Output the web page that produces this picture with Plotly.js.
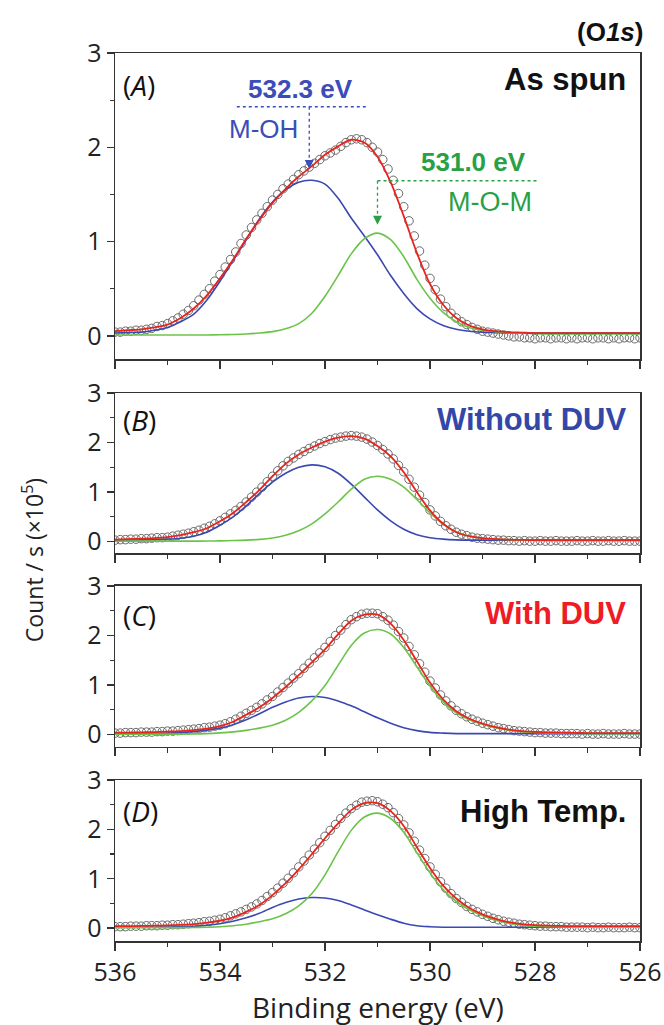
<!DOCTYPE html>
<html>
<head>
<meta charset="utf-8">
<script src="https://cdn.plot.ly/plotly-3.0.1.min.js"></script>
<style>
  html, body { margin: 0; padding: 0; background: #ffffff; }
  #chart { width: 664px; height: 1025px; }
</style>
</head>
<body>
<div id="chart"></div>
<script>
// Binding energies (eV) for the fitted components and for the measured points
const energyFit = [536, 535.75, 535.5, 535.25, 535, 534.75, 534.5, 534.25, 534, 533.75, 533.5, 533.25, 533,
  532.75, 532.5, 532.25, 532, 531.75, 531.5, 531.25, 531, 530.75, 530.5, 530.25, 530, 529.75, 529.5, 529.25,
  529, 528.75, 528.5, 528.25, 528, 527.75, 527.5, 527.25, 527, 526.75, 526.5, 526.25, 526];
const energyRaw = Array.from({ length: 101 }, (_, i) => +(536 - 0.1 * i).toFixed(1));

// (A) As spun  — counts/s in units of 1e5
const rawA = [0.04, 0.04, 0.05, 0.05, 0.06, 0.06, 0.07, 0.08, 0.10, 0.11,
  0.13, 0.16, 0.19, 0.23, 0.27, 0.32, 0.38, 0.44, 0.50, 0.58,
  0.65, 0.73, 0.81, 0.89, 0.98, 1.07, 1.15, 1.23, 1.30, 1.37,
  1.44, 1.50, 1.56, 1.61, 1.66, 1.71, 1.75, 1.79, 1.83, 1.87,
  1.91, 1.94, 1.97, 2.01, 2.05, 2.08, 2.09, 2.08, 2.05, 2.00,
  1.95, 1.87, 1.77, 1.65, 1.51, 1.37, 1.22, 1.06, 0.90, 0.75,
  0.61, 0.49, 0.39, 0.31, 0.24, 0.19, 0.15, 0.12, 0.09, 0.07,
  0.05, 0.04, 0.03, 0.02, 0.01, 0.00, -0.01, -0.01, -0.02, -0.02,
  -0.03, -0.02, -0.02, -0.03, -0.02, -0.02, -0.03, -0.02, -0.03, -0.02,
  -0.02, -0.03, -0.02, -0.02, -0.03, -0.02, -0.03, -0.02, -0.02, -0.03, -0.02];
const envA = [0.05, 0.06, 0.07, 0.09, 0.12, 0.19, 0.29, 0.43, 0.61, 0.81, 1.03, 1.23, 1.41, 1.56, 1.69, 1.80,
  1.92, 2.01, 2.08, 2.05, 1.90, 1.63, 1.27, 0.88, 0.55, 0.33, 0.19, 0.11, 0.07, 0.05, 0.04, 0.035, 0.03,
  0.03, 0.03, 0.03, 0.03, 0.03, 0.03, 0.03, 0.03];
const ohA = [0.03, 0.035, 0.04, 0.06, 0.09, 0.15, 0.23, 0.38, 0.58, 0.80, 1.02, 1.24, 1.42, 1.55, 1.63, 1.65,
  1.61, 1.46, 1.25, 1.06, 0.86, 0.64, 0.45, 0.29, 0.18, 0.11, 0.07, 0.05, 0.04, 0.035, 0.03, 0.03, 0.03,
  0.03, 0.03, 0.03, 0.03, 0.03, 0.03, 0.03, 0.03];
const omA = [0.01, 0.01, 0.01, 0.01, 0.01, 0.01, 0.01, 0.01, 0.012, 0.015, 0.02, 0.03, 0.045, 0.075, 0.13, 0.24,
  0.42, 0.64, 0.87, 1.03, 1.09, 1.02, 0.84, 0.60, 0.40, 0.25, 0.15, 0.09, 0.06, 0.045, 0.035, 0.03, 0.025,
  0.02, 0.02, 0.02, 0.02, 0.02, 0.02, 0.02, 0.02];

// (B) Without DUV
const rawB = [0.03, 0.04, 0.04, 0.05, 0.05, 0.06, 0.06, 0.07, 0.08, 0.08,
  0.09, 0.11, 0.13, 0.15, 0.17, 0.20, 0.23, 0.27, 0.31, 0.36,
  0.42, 0.49, 0.56, 0.63, 0.71, 0.80, 0.90, 1.00, 1.10, 1.21,
  1.32, 1.43, 1.53, 1.62, 1.69, 1.76, 1.82, 1.88, 1.93, 1.98,
  2.02, 2.06, 2.09, 2.11, 2.13, 2.14, 2.13, 2.11, 2.07, 2.01,
  1.94, 1.86, 1.77, 1.67, 1.54, 1.41, 1.26, 1.10, 0.94, 0.79,
  0.64, 0.52, 0.41, 0.32, 0.25, 0.19, 0.15, 0.12, 0.09, 0.07,
  0.06, 0.05, 0.04, 0.03, 0.03, 0.02, 0.02, 0.01, 0.02, 0.01,
  0.01, 0.02, 0.01, 0.01, 0.02, 0.01, 0.01, 0.01, 0.02, 0.01,
  0.01, 0.02, 0.01, 0.01, 0.02, 0.01, 0.01, 0.02, 0.01, 0.01, 0.01];
const envB = [0.04, 0.05, 0.06, 0.07, 0.09, 0.13, 0.19, 0.27, 0.41, 0.58, 0.80, 1.04, 1.32, 1.57, 1.76, 1.90,
  2.02, 2.10, 2.13, 2.08, 1.93, 1.72, 1.40, 1.00, 0.63, 0.36, 0.19, 0.11, 0.07, 0.05, 0.04, 0.035, 0.03,
  0.03, 0.03, 0.03, 0.03, 0.03, 0.03, 0.03, 0.03];
const ohB = [0.03, 0.03, 0.035, 0.04, 0.05, 0.07, 0.11, 0.19, 0.33, 0.50, 0.72, 0.97, 1.20, 1.38, 1.50, 1.55,
  1.51, 1.38, 1.16, 0.90, 0.64, 0.42, 0.25, 0.14, 0.08, 0.05, 0.035, 0.03, 0.03, 0.03, 0.03, 0.03, 0.03,
  0.03, 0.03, 0.03, 0.03, 0.03, 0.03, 0.03, 0.03];
const omB = [0.01, 0.01, 0.01, 0.01, 0.01, 0.01, 0.01, 0.012, 0.016, 0.022, 0.03, 0.045, 0.075, 0.13, 0.22, 0.36,
  0.56, 0.80, 1.06, 1.26, 1.32, 1.26, 1.10, 0.85, 0.58, 0.35, 0.20, 0.11, 0.07, 0.05, 0.04, 0.03, 0.025,
  0.02, 0.02, 0.02, 0.02, 0.02, 0.02, 0.02, 0.02];

// (C) With DUV
const rawC = [0.03, 0.03, 0.04, 0.04, 0.04, 0.05, 0.05, 0.05, 0.06, 0.06,
  0.07, 0.07, 0.08, 0.09, 0.10, 0.11, 0.12, 0.14, 0.15, 0.17,
  0.19, 0.22, 0.26, 0.31, 0.37, 0.43, 0.49, 0.55, 0.62, 0.70,
  0.77, 0.86, 0.95, 1.04, 1.14, 1.23, 1.34, 1.44, 1.55, 1.65,
  1.76, 1.88, 2.00, 2.11, 2.22, 2.32, 2.38, 2.43, 2.45, 2.45,
  2.44, 2.38, 2.31, 2.21, 2.08, 1.95, 1.78, 1.61, 1.43, 1.26,
  1.08, 0.94, 0.80, 0.68, 0.58, 0.49, 0.42, 0.36, 0.31, 0.27,
  0.23, 0.20, 0.17, 0.14, 0.12, 0.10, 0.08, 0.07, 0.06, 0.05,
  0.04, 0.04, 0.03, 0.03, 0.03, 0.02, 0.02, 0.02, 0.02, 0.01,
  0.02, 0.01, 0.01, 0.02, 0.01, 0.01, 0.01, 0.02, 0.01, 0.01, 0.01];
const envC = [0.04, 0.04, 0.045, 0.05, 0.06, 0.07, 0.09, 0.12, 0.17, 0.26, 0.40, 0.55, 0.74, 0.96, 1.20, 1.46,
  1.72, 2.03, 2.30, 2.42, 2.42, 2.24, 1.91, 1.48, 1.05, 0.71, 0.47, 0.32, 0.22, 0.15, 0.10, 0.07, 0.055,
  0.045, 0.04, 0.035, 0.03, 0.03, 0.03, 0.03, 0.03];
const ohC = [0.02, 0.02, 0.02, 0.025, 0.03, 0.04, 0.06, 0.09, 0.13, 0.20, 0.30, 0.42, 0.55, 0.66, 0.74, 0.77,
  0.75, 0.68, 0.58, 0.46, 0.34, 0.23, 0.14, 0.08, 0.045, 0.03, 0.02, 0.02, 0.02, 0.02, 0.02, 0.02, 0.02,
  0.02, 0.02, 0.02, 0.02, 0.02, 0.02, 0.02, 0.02];
const omC = [0.01, 0.01, 0.01, 0.01, 0.01, 0.01, 0.012, 0.02, 0.035, 0.055, 0.085, 0.13, 0.19, 0.29, 0.45, 0.68,
  0.99, 1.40, 1.80, 2.05, 2.12, 2.03, 1.76, 1.37, 0.98, 0.66, 0.44, 0.30, 0.21, 0.14, 0.09, 0.06, 0.045,
  0.035, 0.03, 0.025, 0.02, 0.02, 0.02, 0.02, 0.02];

// (D) High Temp.
const rawD = [0.03, 0.03, 0.03, 0.04, 0.04, 0.04, 0.05, 0.05, 0.05, 0.06,
  0.06, 0.07, 0.07, 0.08, 0.09, 0.10, 0.11, 0.13, 0.14, 0.16,
  0.18, 0.21, 0.25, 0.29, 0.33, 0.38, 0.43, 0.49, 0.56, 0.64,
  0.72, 0.81, 0.91, 1.01, 1.12, 1.24, 1.36, 1.48, 1.60, 1.73,
  1.86, 1.98, 2.10, 2.22, 2.33, 2.42, 2.49, 2.55, 2.57, 2.58,
  2.56, 2.51, 2.44, 2.34, 2.22, 2.09, 1.93, 1.76, 1.58, 1.41,
  1.24, 1.09, 0.94, 0.81, 0.70, 0.60, 0.52, 0.44, 0.38, 0.33,
  0.28, 0.24, 0.20, 0.17, 0.14, 0.12, 0.10, 0.08, 0.07, 0.06,
  0.05, 0.04, 0.04, 0.03, 0.03, 0.03, 0.02, 0.02, 0.02, 0.02,
  0.01, 0.02, 0.01, 0.01, 0.02, 0.01, 0.01, 0.01, 0.02, 0.01, 0.01];
const envD = [0.04, 0.04, 0.045, 0.05, 0.055, 0.065, 0.08, 0.11, 0.15, 0.22, 0.33, 0.47, 0.67, 0.91, 1.19, 1.50,
  1.82, 2.12, 2.39, 2.53, 2.53, 2.37, 2.07, 1.64, 1.22, 0.86, 0.60, 0.41, 0.28, 0.19, 0.12, 0.08, 0.06,
  0.05, 0.045, 0.04, 0.04, 0.04, 0.04, 0.04, 0.04];
const ohD = [0.02, 0.02, 0.02, 0.02, 0.025, 0.03, 0.04, 0.06, 0.09, 0.14, 0.21, 0.30, 0.42, 0.52, 0.59, 0.62,
  0.61, 0.56, 0.47, 0.37, 0.27, 0.18, 0.10, 0.05, 0.03, 0.02, 0.02, 0.02, 0.02, 0.02, 0.02, 0.02, 0.02,
  0.02, 0.02, 0.02, 0.02, 0.02, 0.02, 0.02, 0.02];
const omD = [0.01, 0.01, 0.01, 0.01, 0.01, 0.01, 0.012, 0.02, 0.03, 0.05, 0.08, 0.13, 0.19, 0.29, 0.45, 0.70,
  1.08, 1.55, 1.98, 2.25, 2.33, 2.22, 1.94, 1.53, 1.12, 0.78, 0.54, 0.37, 0.25, 0.16, 0.10, 0.06, 0.04,
  0.03, 0.025, 0.02, 0.02, 0.02, 0.02, 0.02, 0.02];

const panelTags = ['A', 'B', 'C', 'D'];
const panelNames = ['As spun', 'Without DUV', 'With DUV', 'High Temp.'];
const panelNameColors = ['#111111', '#3347a8', '#ee1c24', '#111111'];
const yTickVals = [0, 1, 2, 3];

// Peak assignments marked in panel A
const ohPeak = 532.3;   // M-OH
const omPeak = 531.0;   // M-O-M

const series = [
  { raw: rawA, env: envA, oh: ohA, om: omA },
  { raw: rawB, env: envB, oh: ohB, om: omB },
  { raw: rawC, env: envC, oh: ohC, om: omC },
  { raw: rawD, env: envD, oh: ohD, om: omD }
];

const COL_OH = '#3a48b4';
const COL_OM = '#6cc34a';
const COL_ENV = '#e8241d';
const COL_RAW = '#6a6a6a';
const COL_AXIS = '#333333';
const COL_OH_TXT = '#3b4db8';
const COL_OM_TXT = '#2b9f45';

const FONT_TICK = 'Open Sans, Noto Sans, sans-serif';
const FONT_BOLD = 'Liberation Sans, Arial, sans-serif';

// vertical placement of the four stacked panels (paper fractions)
const domains = [[0.6554, 1.0], [0.4369, 0.6171], [0.2185, 0.3998], [0.0, 0.1813]];
const yLow = [-0.245, -0.23, -0.25, -0.26];
const tagY = [0.895, 0.83, 0.82, 0.81];
const nameY = [0.912, 0.8375, 0.826, 0.807];

const traces = [];
const layout = {
  width: 664,
  height: 1025,
  margin: { l: 115, r: 24, t: 53, b: 84 },
  paper_bgcolor: '#ffffff',
  plot_bgcolor: '#ffffff',
  showlegend: false,
  annotations: [],
  shapes: []
};

series.forEach((s, i) => {
  const id = i === 0 ? '' : String(i + 1);
  const xa = 'x' + id, ya = 'y' + id;

  traces.push({
    type: 'scatter', mode: 'markers', x: energyRaw, y: s.raw, xaxis: xa, yaxis: ya,
    marker: { symbol: 'circle-open', size: 8.5, color: COL_RAW, line: { width: 1 } },
    hoverinfo: 'skip'
  });
  traces.push({
    type: 'scatter', mode: 'lines', x: energyFit, y: s.oh, xaxis: xa, yaxis: ya,
    line: { color: COL_OH, width: 1.6, shape: 'spline', smoothing: 0.8 }
  });
  traces.push({
    type: 'scatter', mode: 'lines', x: energyFit, y: s.om, xaxis: xa, yaxis: ya,
    line: { color: COL_OM, width: 1.6, shape: 'spline', smoothing: 0.8 }
  });
  traces.push({
    type: 'scatter', mode: 'lines', x: energyFit, y: s.env, xaxis: xa, yaxis: ya,
    line: { color: COL_ENV, width: 1.8, shape: 'spline', smoothing: 0.8 }
  });

  const isBottom = i === series.length - 1;
  layout['xaxis' + id] = {
    anchor: ya,
    matches: i === 0 ? undefined : 'x',
    range: [536, 526],
    tick0: 526, dtick: 2,
    ticks: 'outside', ticklen: 8, tickwidth: 1.4, tickcolor: COL_AXIS,
    minor: { dtick: 1, tick0: 526, ticks: 'outside', ticklen: 4.5, tickwidth: 1.2, tickcolor: COL_AXIS },
    showticklabels: isBottom,
    tickfont: { family: FONT_TICK, size: 25, color: '#222222' },
    showline: true, mirror: true, linecolor: COL_AXIS, linewidth: 1.5,
    showgrid: false, zeroline: false
  };
  layout['yaxis' + id] = {
    anchor: xa,
    domain: domains[i],
    range: [yLow[i], 3],
    tickvals: yTickVals,
    ticks: 'outside', ticklen: 7, tickwidth: 1.4, tickcolor: COL_AXIS,
    minor: { dtick: 0.5, tick0: 0, ticks: 'outside', ticklen: 3.5, tickwidth: 1.2, tickcolor: COL_AXIS },
    tickfont: { family: FONT_TICK, size: 25, color: '#222222' },
    showline: true, mirror: true, linecolor: COL_AXIS, linewidth: 1.5,
    showgrid: false, zeroline: false
  };

  // panel tag, e.g. (A)
  layout.annotations.push({
    xref: xa + ' domain', yref: ya + ' domain', x: 0.011, y: tagY[i],
    xanchor: 'left', yanchor: 'middle', showarrow: false,
    text: '(<i>' + panelTags[i] + '</i>)',
    font: { family: FONT_TICK, size: 28, color: '#111111' }
  });
  // sample condition
  layout.annotations.push({
    xref: xa + ' domain', yref: ya + ' domain', x: 0.977, y: nameY[i],
    xanchor: 'right', yanchor: 'middle', showarrow: false,
    text: '<b>' + panelNames[i] + '</b>',
    font: { family: FONT_BOLD, size: 31, color: panelNameColors[i] }
  });
});

// Peak markers in panel A: dotted leader lines ending in small filled arrowheads
const headPath = 'M -4.5,9 L 4.5,9 L 0,0 Z';
layout.shapes.push(
  { type: 'line', xref: 'x', yref: 'y', x0: 533.68, x1: 531.22, y0: 2.43, y1: 2.43,
    line: { color: COL_OH_TXT, width: 1.5, dash: 'dot' } },
  { type: 'line', xref: 'x', yref: 'y', x0: ohPeak, x1: ohPeak, y0: 2.43, y1: 1.86,
    line: { color: COL_OH_TXT, width: 1.3, dash: 'dot' } },
  { type: 'path', xref: 'x', yref: 'y', xsizemode: 'pixel', ysizemode: 'pixel',
    xanchor: ohPeak, yanchor: 1.77, path: headPath, fillcolor: COL_OH_TXT, line: { width: 0 } },
  { type: 'line', xref: 'x', yref: 'y', x0: omPeak, x1: 527.97, y0: 1.644, y1: 1.644,
    line: { color: COL_OM_TXT, width: 1.5, dash: 'dot' } },
  { type: 'line', xref: 'x', yref: 'y', x0: omPeak, x1: omPeak, y0: 1.644, y1: 1.27,
    line: { color: COL_OM_TXT, width: 1.3, dash: 'dot' } },
  { type: 'path', xref: 'x', yref: 'y', xsizemode: 'pixel', ysizemode: 'pixel',
    xanchor: omPeak, yanchor: 1.18, path: headPath, fillcolor: COL_OM_TXT, line: { width: 0 } }
);
layout.annotations.push(
  { xref: 'x', yref: 'y', x: 532.47, y: 2.62, xanchor: 'center', yanchor: 'middle', showarrow: false,
    text: '<b>' + ohPeak.toFixed(1) + ' eV</b>', font: { family: FONT_BOLD, size: 26, color: COL_OH_TXT } },
  { xref: 'x', yref: 'y', x: 533.18, y: 2.195, xanchor: 'center', yanchor: 'middle', showarrow: false,
    text: 'M-OH', font: { family: FONT_BOLD, size: 26, color: COL_OH_TXT } },
  { xref: 'x', yref: 'y', x: 529.18, y: 1.845, xanchor: 'center', yanchor: 'middle', showarrow: false,
    text: '<b>' + omPeak.toFixed(1) + ' eV</b>', font: { family: FONT_BOLD, size: 26, color: COL_OM_TXT } },
  { xref: 'x', yref: 'y', x: 528.86, y: 1.42, xanchor: 'center', yanchor: 'middle', showarrow: false,
    text: 'M-O-M', font: { family: FONT_BOLD, size: 27, color: COL_OM_TXT } }
);

// Core level, shared axis titles
layout.annotations.push(
  { xref: 'paper', yref: 'paper', x: 1.0095, y: 1.0236, xanchor: 'right', yanchor: 'middle',
    showarrow: false, text: '<b>(O<i>1s</i>)</b>', font: { family: FONT_BOLD, size: 26, color: '#111111' } },
  { xref: 'paper', yref: 'paper', x: -0.156, y: 0.429, xanchor: 'center', yanchor: 'middle',
    showarrow: false, textangle: -90, text: 'Count / s (×10<sup>5</sup>)',
    font: { family: FONT_TICK, size: 23, color: '#222222' } },
  { xref: 'paper', yref: 'paper', x: 0.5, y: -0.0743, xanchor: 'center', yanchor: 'middle',
    showarrow: false, text: 'Binding energy (eV)',
    font: { family: FONT_TICK, size: 28, color: '#222222' } }
);

Plotly.newPlot('chart', traces, layout, { staticPlot: true, displayModeBar: false });
</script>
</body>
</html>
